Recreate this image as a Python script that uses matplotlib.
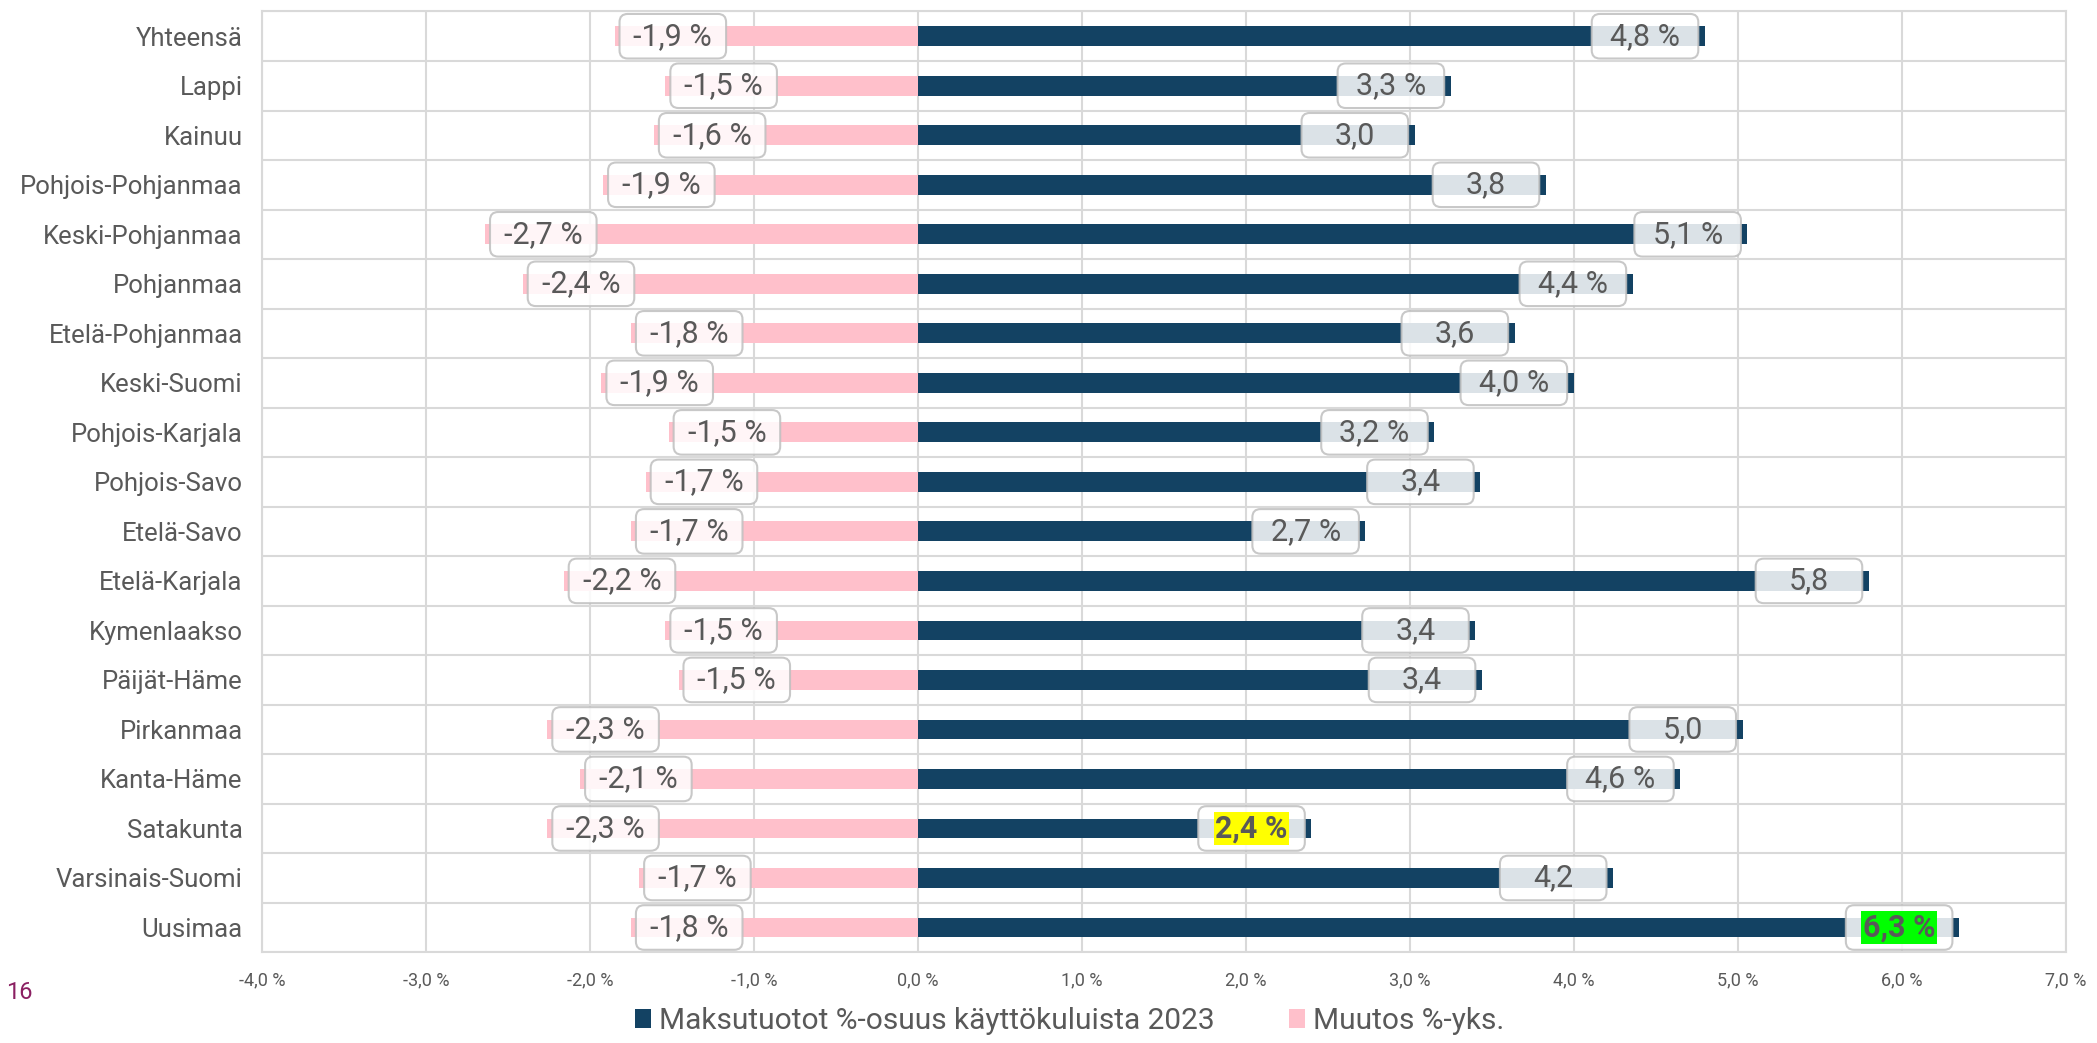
import numpy as np
import matplotlib
matplotlib.use('Agg')
import matplotlib.pyplot as plt
from matplotlib.patches import FancyBboxPatch
from matplotlib.ticker import FuncFormatter, MultipleLocator

plt.rcParams['font.family'] = ['Roboto', 'DejaVu Sans']

# Alueet ylhäältä alas
alueet = ['Yhteensä', 'Lappi', 'Kainuu', 'Pohjois-Pohjanmaa', 'Keski-Pohjanmaa',
          'Pohjanmaa', 'Etelä-Pohjanmaa', 'Keski-Suomi', 'Pohjois-Karjala',
          'Pohjois-Savo', 'Etelä-Savo', 'Etelä-Karjala', 'Kymenlaakso',
          'Päijät-Häme', 'Pirkanmaa', 'Kanta-Häme', 'Satakunta',
          'Varsinais-Suomi', 'Uusimaa']

# Maksutuotot %-osuus käyttökuluista 2023
osuus = [4.80, 3.25, 3.03, 3.83, 5.06, 4.36, 3.64, 4.00, 3.15, 3.43,
         2.73, 5.80, 3.40, 3.44, 5.03, 4.65, 2.40, 4.24, 6.35]
osuus_tekstit = ['4,8 %', '3,3 %', '3,0', '3,8', '5,1 %', '4,4 %', '3,6', '4,0 %',
                 '3,2 %', '3,4', '2,7 %', '5,8', '3,4', '3,4', '5,0', '4,6 %',
                 '2,4 %', '4,2', '6,3 %']

# Muutos %-yks.
muutos = [-1.85, -1.54, -1.61, -1.92, -2.64, -2.41, -1.75, -1.93, -1.52, -1.66,
          -1.75, -2.16, -1.54, -1.46, -2.26, -2.06, -2.26, -1.70, -1.75]
muutos_tekstit = ['-1,9 %', '-1,5 %', '-1,6 %', '-1,9 %', '-2,7 %', '-2,4 %', '-1,8 %',
                  '-1,9 %', '-1,5 %', '-1,7 %', '-1,7 %', '-2,2 %', '-1,5 %', '-1,5 %',
                  '-2,3 %', '-2,1 %', '-2,3 %', '-1,7 %', '-1,8 %']

# korostetut arvot
korostus = {'Satakunta': '#ffff00', 'Uusimaa': '#00ff00'}

sininen = '#134263'
pinkki = '#ffc0cb'
harmaa = '#595959'
ruudukko = '#d9d9d9'

fig = plt.figure(figsize=(20.97, 10.43), dpi=100)
ax = fig.add_axes([0.125, 0.087, 0.86, 0.902])

y = np.arange(len(alueet))
ax.barh(y, osuus, height=0.4, color=sininen, zorder=2,
        label='Maksutuotot %-osuus käyttökuluista 2023')
ax.barh(y, muutos, height=0.4, color=pinkki, zorder=2, label='Muutos %-yks.')

ax.set_xlim(-4, 7)
ax.set_ylim(len(alueet) - 0.5, -0.5)

# datalabelit
lw, lh = 0.65, 0.9
for i, alue in enumerate(alueet):
    for arvo, teksti, pos in ((osuus[i], osuus_tekstit[i], True),
                              (muutos[i], muutos_tekstit[i], False)):
        if pos:
            x0 = arvo - 0.04 - lw
        else:
            x0 = arvo + 0.03
        box = FancyBboxPatch((x0, i - lh / 2), lw, lh,
                             boxstyle='round,pad=0,rounding_size=0.05',
                             mutation_aspect=3.3, facecolor='white', alpha=0.85,
                             edgecolor='#bfbfbf', linewidth=1.5, zorder=3)
        ax.add_patch(box)
        kw = dict(ha='center', va='center', fontsize=22, color=harmaa, zorder=4)
        if pos and alue in korostus:
            kw.update(fontweight='bold',
                      bbox=dict(facecolor=korostus[alue], edgecolor='none', pad=1))
        ax.text(x0 + lw / 2, i, teksti, **kw)

ax.xaxis.set_major_locator(MultipleLocator(1))
ax.xaxis.set_major_formatter(FuncFormatter(lambda v, p: f'{v:.1f} %'.replace('.', ',')))
ax.set_yticks(y)
ax.set_yticklabels(alueet)
ax.set_yticks(np.arange(len(alueet) + 1) - 0.5, minor=True)
ax.tick_params(axis='y', which='both', length=0, pad=14, labelsize=18.5, labelcolor=harmaa)
ax.tick_params(axis='x', length=0, pad=14, labelsize=13, labelcolor=harmaa)
ax.grid(axis='x', which='major', color=ruudukko, linewidth=1.5, zorder=0)
ax.grid(axis='y', which='minor', color=ruudukko, linewidth=1.5, zorder=0)
ax.set_axisbelow(True)
for s in ax.spines.values():
    s.set_color(ruudukko)
    s.set_linewidth(1.5)

fig.text(0.003, 0.042, '16', fontsize=17, color='#8b2062')

fig.legend(loc='lower center', bbox_to_anchor=(0.51, -0.018), ncol=2, frameon=False,
           fontsize=21.5, labelcolor=harmaa, handlelength=0.55, handleheight=0.6,
           handletextpad=0.25, columnspacing=2.5)

fig.savefig('out.png', dpi=100)
